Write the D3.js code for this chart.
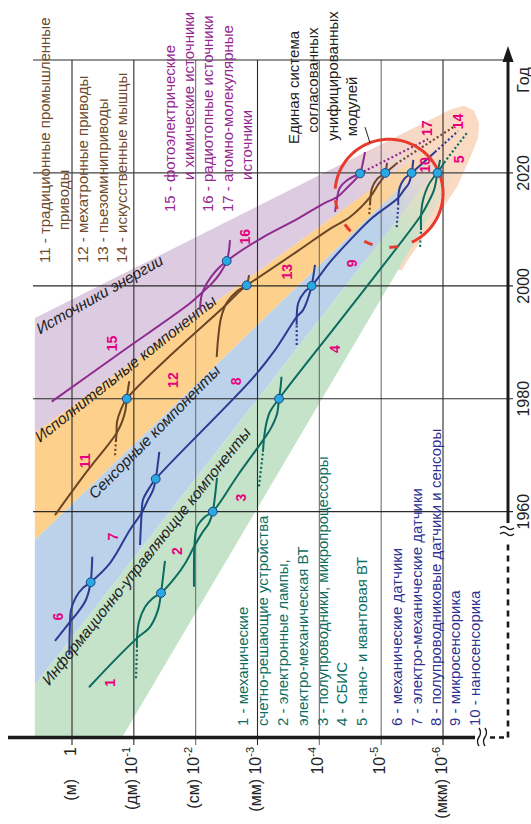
<!DOCTYPE html>
<html>
<head>
<meta charset="utf-8">
<script src="https://cdn.jsdelivr.net/npm/d3@7"></script>
<style>
  html, body { margin: 0; padding: 0; background: #fff; }
  svg { display: block; font-family: "Liberation Sans", Arial, sans-serif; }
</style>
</head>
<body>
<svg id="chart" width="531" height="824"></svg>
<script>
// Every point is [year, k], where the object size is 10^-k metres.
const sizeExp   = [0, 1, 2, 3, 4, 5, 6];
const sizeUnit  = ["(м)", "(дм)", "(см)", "(мм)", "", "", "(мкм)"];
const yearTicks = [1960, 1980, 2000, 2020];
const gridYears = [1960, 1980, 2000, 2020, 2040];

// technology bands (fan toward miniaturisation)
const bandEnergy   = [[1994.3, -0.6], [2028.5, 5.625], [2025.5, 5.897], [1973.9, -0.6]];
const bandActuator = [[1973.9, -0.6], [2025.5, 5.897], [2024.6, 5.982], [1955.0, -0.6]];
const bandSensor   = [[1955.0, -0.6], [2024.6, 5.982], [2023.4, 6.092], [1929.3, -0.6]];
const bandInfo     = [[1929.3, -0.6], [2023.4, 6.092], [2021.4, 6.275], [1920, 0.809], [1920, -0.6]];
const convergenceCap = [[2018.3, 3.768], [2030.3, 5.952], [2031.3, 6.146], [2031.9, 6.340], [2031.0, 6.502],
  [2028.8, 6.582], [2026.2, 6.566], [2023.5, 6.469], [2017.5, 6.227], [2010.4, 5.79], [2004.6, 5.435],
  [2002.8, 5.337], [2002.8, 5.272], [2006.3, 4.658], [2012.5, 4.173]];
const fadeFrom = [2012.5, 4.820];
const fadeTo   = [2024.9, 5.952];

const bandNames = ["Источники энергии", "Исполнительные компоненты", "Сенсорные компоненты",
                   "Информационно-управляющие компоненты"];
const bandNameAt = [[1991.4, -0.518], [1972.2, -0.518], [1962.1, 0.372], [1929.1, -0.367]];

// information / control components
const curve1 = [[1928.9, 0.275], [1933.4, 0.663], [1937.6, 1.051], [1939.6, 1.262], [1942.6, 1.391], [1945.6, 1.44], [1948.4, 1.472], [1951.3, 1.504]];
const curve2Lead = [[1930.5, 1.035], [1935.9, 1.051]];
const curve2 = [[1935.9, 1.051], [1937.6, 1.051], [1940.5, 1.084], [1943.1, 1.181], [1944.7, 1.31], [1945.6, 1.44], [1948.3, 1.666], [1951.1, 1.844], [1954.1, 1.989], [1956.2, 2.102], [1958.0, 2.216], [1960.0, 2.276], [1962.8, 2.313], [1966.0, 2.345]];
const curve3 = [[1946.7, 1.973], [1950.6, 1.973], [1954.1, 1.981], [1957.3, 2.022], [1959.1, 2.151], [1960.0, 2.276], [1966.5, 2.685], [1972.9, 3.105], [1974.8, 3.218], [1977.3, 3.315], [1980.0, 3.348], [1981.9, 3.372], [1983.9, 3.388]];
const curve4Lead = [[1964.5, 3.024], [1970.6, 3.089]];
const curve4 = [[1970.6, 3.089], [1972.9, 3.105], [1975.4, 3.138], [1977.7, 3.202], [1980.0, 3.348], [1996.1, 4.496], [2012.5, 5.645], [2014.7, 5.758], [2017.0, 5.855], [2020.0, 5.911], [2022.3, 5.952]];
const curve5Lead = [[2006.9, 5.628], [2009.9, 5.645]];
const curve5 = [[2009.9, 5.645], [2012.5, 5.645], [2015.2, 5.677], [2017.7, 5.758], [2019.1, 5.839], [2020.0, 5.911], [2021.8, 6.017]];
const curve5Ahead = [[2021.8, 6.017], [2027.1, 6.388]];

// sensor components
const curve6 = [[1937.1, -0.275], [1940.5, -0.032], [1942.2, 0.097], [1944.4, 0.226], [1947.5, 0.302], [1949.7, 0.319], [1952.0, 0.328]];
const curve7 = [[1934.6, -0.044], [1940.5, -0.032], [1942.6, -0.016], [1944.9, 0.065], [1946.5, 0.178], [1947.5, 0.302], [1950.9, 0.615], [1956.8, 0.938], [1959.8, 1.127], [1962.1, 1.229], [1963.8, 1.31], [1965.8, 1.354], [1968.3, 1.386], [1970.6, 1.412]];
const curve8 = [[1954.1, 1.1], [1959.8, 1.127], [1962.1, 1.148], [1964.4, 1.262], [1965.8, 1.354], [1983.7, 2.927], [1988.6, 3.283], [1994.5, 3.634], [1995.7, 3.736], [1997.8, 3.817], [2000.0, 3.876], [2001.9, 3.906], [2003.7, 3.93]];
const curve9Lead = [[1989.5, 3.634], [1993.1, 3.634]];
const curve9 = [[1993.1, 3.634], [1994.5, 3.634], [1997.0, 3.66], [1999.0, 3.769], [2000.0, 3.876], [2004.2, 4.173], [2008.1, 4.496], [2012.0, 4.852], [2015.6, 5.277], [2017.0, 5.37], [2018.2, 5.45], [2020.0, 5.493], [2022.3, 5.52]];
const curve10Lead = [[2010.4, 5.251], [2014.3, 5.277]];
const curve10 = [[2014.3, 5.277], [2015.6, 5.277], [2017.3, 5.297], [2018.9, 5.37], [2020.0, 5.493], [2023.7, 5.871]];
const curve10Ahead = [[2023.7, 5.871], [2027.4, 6.243]];

// actuator components
const curve11 = [[1959.4, -0.275], [1966.9, 0.226], [1973.9, 0.72], [1975.9, 0.809], [1978.0, 0.865], [1980.0, 0.885], [1981.9, 0.909], [1983.1, 0.927]];
const curve12Lead = [[1970.0, 0.695], [1972.7, 0.712]];
const curve12 = [[1972.7, 0.712], [1973.9, 0.72], [1975.9, 0.728], [1978.0, 0.788], [1980.0, 0.885], [1988.1, 1.633], [1996.3, 2.458], [1999.1, 2.717], [2000.1, 2.825], [2001.2, 2.852], [2001.9, 2.863]];
const curve13 = [[1987.4, 2.34], [1991.3, 2.369], [1994.3, 2.41], [1997.0, 2.502], [1999.0, 2.664], [2000.1, 2.825], [2006.2, 3.655], [2010.1, 4.173], [2012.2, 4.496], [2015.7, 4.82], [2017.9, 4.949], [2019.1, 5.03], [2020.0, 5.067], [2021.8, 5.095]];
const curve14Lead = [[2012.7, 4.808], [2014.5, 4.82]];
const curve14 = [[2014.5, 4.82], [2015.7, 4.828], [2017.3, 4.852], [2018.9, 4.933], [2020.0, 5.067], [2021.6, 5.24]];
const curve14Ahead = [[2021.6, 5.24], [2028.3, 6.194]];

// energy sources
const curve15 = [[1979.5, -0.328], [1988.1, 0.776], [1996.9, 1.908], [1999.0, 2.124], [2000.4, 2.259], [2002.2, 2.394], [2004.4, 2.502], [2006.3, 2.539], [2008.1, 2.555]];
const curve16 = [[1995.7, 2.07], [1998.4, 2.098], [2000.4, 2.178], [2002.8, 2.34], [2004.4, 2.502], [2008.5, 3.073], [2011.8, 3.639], [2014.7, 4.092], [2015.7, 4.286], [2017.6, 4.469], [2019.9, 4.658], [2021.9, 4.706], [2023.7, 4.739]];
const curve17 = [[2013.1, 4.254], [2015.4, 4.286], [2017.3, 4.327], [2018.7, 4.448], [2019.9, 4.658]];
const curve17Ahead = [[2019.9, 4.658], [2026.0, 5.758]];

// generation change points
const changePoints = [[1945.6, 1.44], [1960.0, 2.276], [1980.0, 3.348], [2020.0, 5.911],
  [1947.5, 0.302], [1965.8, 1.354], [2000.0, 3.876], [2020.0, 5.493],
  [1980.0, 0.885], [2000.1, 2.825], [2020.0, 5.067], [2004.4, 2.502], [2019.9, 4.658]];

const curveNumbers = ["1","2","3","4","5","6","7","8","9","10","11","12","13","14","15","16","17"];
const curveNumberAt = [[1929.7, 0.615], [1953.0, 1.693], [1962.5, 2.733], [1988.8, 4.254], [2022.4, 6.264],
  [1941.4, -0.222], [1955.6, 0.663], [1983.1, 2.652], [2004.0, 4.524], [2021.4, 5.709],
  [1969.0, 0.21], [1983.3, 1.638], [2002.5, 3.472], [2029.1, 6.238],
  [1989.8, 0.642], [2008.7, 2.798], [2027.9, 5.737]];

const moduleCircle = [2016.4, 5.127];
const moduleLeader = [[2028.1, 4.739], [2025.3, 4.82]];
const moduleText = ["Единая система", "согласованных", "унифицированных", "модулей"];

const legendActuator = ["11 - традиционные промышленные", "приводы", "12 - мехатронные приводы",
  "13 - пьезоминиприводы", "14 - искусственные мышцы"];
const legendEnergy = ["15 - фотоэлектрические", "и химические источники", "16 - радиотопные источники",
  "17 - атомно-молекулярные", "источники"];
const legendInfo = ["1 - механические", "счетно-решающие устройства", "2 - электронные лампы,",
  "электро-механическая ВТ", "3 - полупроводники, микропроцессоры", "4 - СБИС", "5 - нано- и квантовая ВТ"];
const legendSensor = ["6 - механические датчики", "7 - электро-механические датчики",
  "8 - полупроводниковые датчики и сенсоры", "9 - микросенсорика", "10 - наносенсорика"];

// ---------------------------------------------------------------
const TEAL = "#0b6b5f", NAVY = "#2b3a92", BROWN = "#6b4526", PURPLE = "#8d2b8f";
const MAGENTA = "#e6007e";

const svg = d3.select("#chart");
const defs = svg.append("defs");
const yr = d3.scaleLinear().domain([1920, 2040]).range([737.5, 60]);
const ex = d3.scaleLinear().domain([0, 6]).range([72, 443]);
const smooth = d3.line().x(d => ex(d[1])).y(d => yr(d[0])).curve(d3.curveCatmullRom.alpha(0.5));
const straight = d3.line().x(d => ex(d[1])).y(d => yr(d[0]));

function vText(g, x, y, str, anchor) {
  return g.append("text")
    .attr("transform", `translate(${x},${y}) rotate(-90)`)
    .attr("text-anchor", anchor || "start")
    .text(str);
}

// converging cap under the bands
svg.append("path").attr("d", straight(convergenceCap) + "Z").attr("fill", "#fbdac3");

// bands, each fading into the cap
const bands = [
  { pts: bandEnergy,   color: "#ddcbe1" },
  { pts: bandActuator, color: "#fdd08b" },
  { pts: bandSensor,   color: "#bcd1ea" },
  { pts: bandInfo,     color: "#c4e3c9" }
];
bands.forEach((b, i) => {
  const gr = defs.append("linearGradient").attr("id", "fade" + i)
    .attr("gradientUnits", "userSpaceOnUse")
    .attr("x1", ex(fadeFrom[1])).attr("y1", yr(fadeFrom[0]))
    .attr("x2", ex(fadeTo[1])).attr("y2", yr(fadeTo[0]));
  gr.append("stop").attr("offset", 0).attr("stop-color", b.color).attr("stop-opacity", 1);
  gr.append("stop").attr("offset", 1).attr("stop-color", b.color).attr("stop-opacity", 0);
  svg.append("path").attr("d", straight(b.pts) + "Z").attr("fill", `url(#fade${i})`);
});

// grid
const grid = svg.append("g");
grid.selectAll("line.v").data(sizeExp).join("line")
  .attr("x1", d => ex(d)).attr("x2", d => ex(d))
  .attr("y1", yr(2040)).attr("y2", 745)
  .attr("stroke", d => (d === 2 || d === 4 || d === 5) ? "#707070" : "#2a2a2a")
  .attr("stroke-width", 1.1);
grid.selectAll("line.h").data(gridYears).join("line")
  .attr("x1", ex(-0.63)).attr("x2", 513)
  .attr("y1", d => yr(d)).attr("y2", d => yr(d))
  .attr("stroke", d => d === 2020 ? "#444" : "#2a2a2a")
  .attr("stroke-width", 1.1);

// axes
const ax = svg.append("g").attr("stroke", "#1a1a1a").attr("fill", "none");
ax.append("line").attr("x1", 8).attr("x2", 475).attr("y1", 737.5).attr("y2", 737.5).attr("stroke-width", 3.5);
ax.append("line").attr("x1", 490).attr("x2", 508).attr("y1", 737.5).attr("y2", 737.5)
  .attr("stroke-width", 2.6).attr("stroke-dasharray", "5,4");
ax.append("line").attr("x1", 508).attr("x2", 508).attr("y1", 737.5).attr("y2", 540)
  .attr("stroke-width", 2.6).attr("stroke-dasharray", "6,5");
ax.append("line").attr("x1", 508).attr("x2", 508).attr("y1", 523).attr("y2", 60).attr("stroke-width", 3);
ax.append("path").attr("d", "M508,46 L502.5,62 L513.5,62 Z").attr("fill", "#1a1a1a").attr("stroke", "none");
// axis breaks
[479, 485].forEach(x => ax.append("path")
  .attr("d", `M${x},728 q3,4.5 0,9 q-3,4.5 0,9`).attr("stroke-width", 1.4));
[528, 534].forEach(y => ax.append("path")
  .attr("d", `M500,${y} q3.5,-3 7,0 q3.5,3 7,0`).attr("stroke-width", 1.4));

// band names
const bandAngles = [-29.6, -38.2, -45.4, -51.4];
svg.append("g").selectAll("text").data(bandNames).join("text")
  .attr("transform", (d, i) => `translate(${ex(bandNameAt[i][1])},${yr(bandNameAt[i][0])}) rotate(${bandAngles[i]})`)
  .attr("font-size", 15.5).attr("font-style", "italic").attr("fill", "#222")
  .text(d => d);

// technology curves
const solid = [
  [curve1, TEAL], [curve2, TEAL], [curve3, TEAL], [curve4, TEAL], [curve5, TEAL],
  [curve6, NAVY], [curve7, NAVY], [curve8, NAVY], [curve9, NAVY], [curve10, NAVY],
  [curve11, BROWN], [curve12, BROWN], [curve13, BROWN], [curve14, BROWN],
  [curve15, PURPLE], [curve16, PURPLE], [curve17, PURPLE]
];
const dotted = [
  [curve2Lead, TEAL], [curve4Lead, TEAL], [curve5Lead, TEAL], [curve5Ahead, TEAL],
  [curve9Lead, NAVY], [curve10Lead, NAVY], [curve10Ahead, NAVY],
  [curve12Lead, BROWN], [curve14Lead, BROWN], [curve14Ahead, BROWN],
  [curve17Ahead, PURPLE]
];
const lines = svg.append("g").attr("fill", "none");
lines.selectAll("path.s").data(solid).join("path")
  .attr("d", d => smooth(d[0])).attr("stroke", d => d[1]).attr("stroke-width", 2);
lines.selectAll("path.d").data(dotted).join("path")
  .attr("d", d => straight(d[0])).attr("stroke", d => d[1]).attr("stroke-width", 2.2)
  .attr("stroke-dasharray", "2,2.4");

// unified modules circle
const cx = ex(moduleCircle[1]), cy = yr(moduleCircle[0]), R = 54;
const arcPts = (a0, a1) => d3.range(a0, a1 + 0.01, 2).map(a => [cx + R * Math.cos(a * Math.PI / 180), cy + R * Math.sin(a * Math.PI / 180)]);
const plain = d3.line();
svg.append("path").attr("d", plain(arcPts(185, 425))).attr("fill", "none")
  .attr("stroke", "#e63b2e").attr("stroke-width", 3);
svg.append("path").attr("d", plain(arcPts(65, 185))).attr("fill", "none")
  .attr("stroke", "#e63b2e").attr("stroke-width", 3)
  .attr("stroke-dasharray", "9,17").attr("stroke-dashoffset", 11.7);
svg.append("path").attr("d", straight(moduleLeader)).attr("stroke", "#222").attr("stroke-width", 1);

// change points
svg.append("g").selectAll("circle").data(changePoints).join("circle")
  .attr("cx", d => ex(d[1])).attr("cy", d => yr(d[0])).attr("r", 4.4)
  .attr("fill", "#2aa8e0").attr("stroke", "#1d4489").attr("stroke-width", 1);

// curve numbers
svg.append("g").selectAll("text").data(curveNumbers).join("text")
  .attr("transform", (d, i) => `translate(${ex(curveNumberAt[i][1])},${yr(curveNumberAt[i][0])}) rotate(-90)`)
  .attr("text-anchor", "middle").attr("dominant-baseline", "central")
  .attr("font-size", 14).attr("font-weight", "bold").attr("fill", MAGENTA)
  .text(d => d);

// size axis labels
const ticks = svg.append("g").attr("font-size", 16).attr("fill", "#222");
sizeExp.forEach((k, i) => {
  const x = ex(k) + 3.5;
  const t = ticks.append("text").attr("transform", `translate(${x},747) rotate(-90)`).attr("text-anchor", "end");
  if (k === 0) t.text("1");
  else {
    t.append("tspan").text("10");
    t.append("tspan").attr("font-size", 11).attr("dy", -7).text("-" + k);
  }
  if (sizeUnit[i]) vText(ticks, x, 779, sizeUnit[i], "end");
});
// year labels
yearTicks.forEach(y => vText(ticks, 529, yr(y), String(y), "middle"));
vText(ticks, 528.5, 80, "Год", "middle");

// legends
const leg = svg.append("g").attr("font-size", 15);
const legActX = [50, 68.5, 88, 107.5, 127], legActY = [263, 230, 263, 263, 263];
legendActuator.forEach((s, i) => vText(leg, legActX[i], legActY[i], s).attr("fill", "#6e4a2b"));
const legEnX = [175, 194, 213, 232.5, 252], legEnY = [212, 180, 212, 212, 180];
legendEnergy.forEach((s, i) => vText(leg, legEnX[i], legEnY[i], s).attr("fill", "#93278f"));
const legInX = [248, 268, 288, 308, 327.5, 347, 367];
legendInfo.forEach((s, i) => vText(leg, legInX[i], 726, s).attr("fill", "#0b6e63"));
const legSeX = [402, 421.5, 441, 460, 480];
legendSensor.forEach((s, i) => vText(leg, legSeX[i], 726, s).attr("fill", "#2e3192"));

// module caption
const capX = [298.5, 318, 337.5, 357], capY = [87.5, 80, 76, 106.5];
moduleText.forEach((s, i) => vText(leg, capX[i], capY[i], s, "middle").attr("fill", "#222"));
</script>
</body>
</html>
